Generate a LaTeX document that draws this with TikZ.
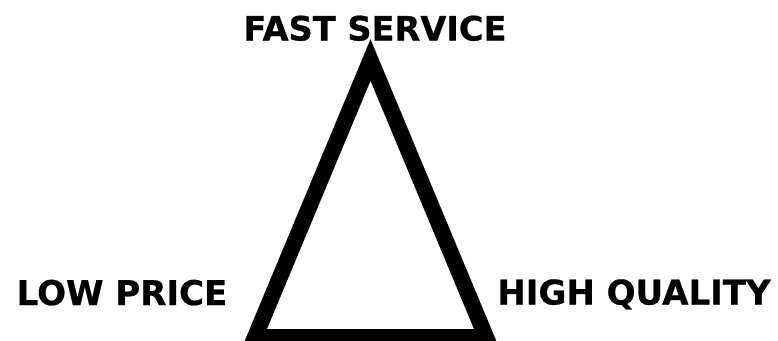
\documentclass[tikz,border=0pt]{standalone}
\usepackage{fontspec}
\setmainfont{DejaVu Sans}[BoldFeatures={FakeBold=0.6}]
\begin{document}
\begin{tikzpicture}[x=1pt,y=-1pt,
  lbl/.style={inner sep=0pt, anchor=base, font=\bfseries\fontsize{34}{40}\selectfont},
  tri/.style={draw=black, line width=16pt, line join=miter}]
\useasboundingbox (0,0) rectangle (778,340);
\coordinate (apex) at (370.5,60);
\coordinate (bl) at (255,337);
\coordinate (br) at (486,337);
\draw[tri] (bl) -- (apex) -- (br) -- cycle;
\node[lbl, font=\bfseries\fontsize{33.6}{40}\selectfont] (fast) at (375,40.5) {FAST SERVICE};
\node[lbl] (low) at (122,305) {LOW PRICE};
\node[lbl] (high) at (634,304.5) {HIGH QUALITY};
\end{tikzpicture}
\end{document}
